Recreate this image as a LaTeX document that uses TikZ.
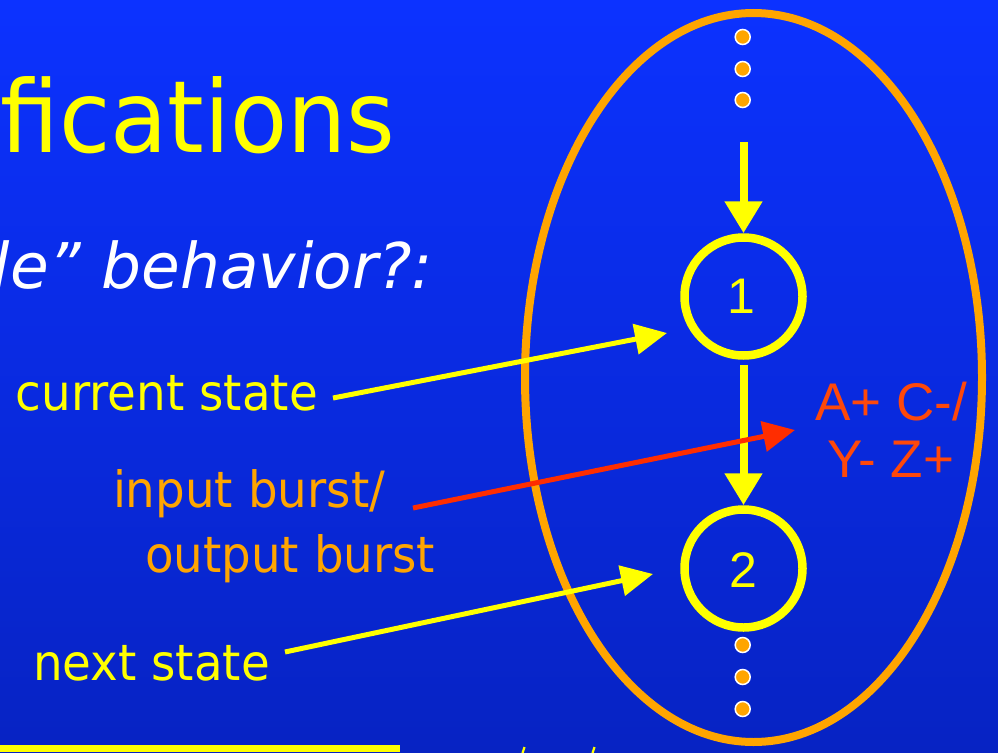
\documentclass[tikz,border=0pt]{standalone}
\usepackage{fontspec}
\usetikzlibrary{arrows.meta}
\newfontfamily\tah[FakeStretch=0.935]{DejaVu Sans}
\newfontfamily\verdi{DejaVu Sans}
\newfontfamily\ari{Liberation Sans}
\definecolor{bgtop}{RGB}{12,50,255}
\definecolor{bgbot}{RGB}{7,35,195}
\definecolor{ylw}{RGB}{255,255,0}
\definecolor{org}{RGB}{255,165,0}
\definecolor{redarr}{RGB}{255,45,0}
\definecolor{redtxt}{RGB}{255,72,10}
\tikzset{
  lbl/.style={inner sep=0pt, outer sep=0pt, anchor=base west, font=\tah\fontsize{50}{60}\selectfont},
  statecirc/.style={circle, draw=ylw, line width=8.5pt, minimum size=118pt, inner sep=0pt,
     font=\ari\fontsize{50}{60}\selectfont, text=ylw},
  dotnode/.style={circle, fill=org, draw=white, line width=1.5pt, minimum size=15pt, inner sep=0pt},
  vtrans/.style={ylw, line width=8pt, -{Triangle[length=32pt,width=36pt]}},
  pointer/.style={line width=5pt, -{Triangle[length=32pt,width=30pt]}},
}
\begin{document}
\begin{tikzpicture}[x=1pt,y=-1pt]
\useasboundingbox (0,0) rectangle (998,752);
\shade[top color=bgtop, bottom color=bgbot] (0,0) rectangle (998,752);
\begin{scope}
\clip (0,0) rectangle (998,752);
% big ellipse
\draw[org, line width=8pt] (753.5,377.5) ellipse [x radius=228.5pt, y radius=364.5pt];
% title fragments
\node[inner sep=0pt, anchor=base west, text=ylw, font=\tah\fontsize{100}{110}\selectfont] (title) at (0,152) {fications};
\node[inner sep=0pt, anchor=base east, text=white, font=\verdi\itshape\fontsize{63}{70}\selectfont] (sub) at (433,288) {le” behavior?:};
% bottom fragments
\fill[ylw] (0,745) rectangle (400,752);
\draw[ylw, line width=2.2pt] (522.5,753) -- (524.5,747);
\draw[ylw, line width=2.2pt] (592.5,753) -- (594.5,747);
\end{scope}
% dots
\node[dotnode] (d1) at (742.7,37) {};
\node[dotnode] (d2) at (742.7,69) {};
\node[dotnode] (d3) at (742.7,100) {};
\node[dotnode] (d4) at (742.7,645) {};
\node[dotnode] (d5) at (742.7,677) {};
\node[dotnode] (d6) at (742.7,709) {};
% states
\node[statecirc] (s1) at (743.5,296.5) {};
\node[inner sep=0pt, anchor=base, text=ylw, font=\ari\fontsize{50}{60}\selectfont] (n1) at (741,313) {1};
\node[statecirc] (s2) at (743.5,568.5) {};
\node[inner sep=0pt, anchor=base, text=ylw, font=\ari\fontsize{50}{60}\selectfont] (n2) at (743.5,587) {2};
\coordinate (in1) at (743.5,142);
\draw[vtrans] (in1) -- (s1.north);
\draw[vtrans, shorten <=5pt] (s1.south) -- (s2.north);
% labels
\node[lbl, text=ylw] (cur) at (16,410) {current state};
\node[lbl, text=org] (ib) at (113,507) {input burst/};
\node[lbl, text=org] (ob) at (145,572) {output burst};
\node[lbl, text=ylw] (nxt) at (33,680) {next state};
\node[inner sep=0pt, anchor=base, text=redtxt, font=\ari\fontsize{53}{60}\selectfont] (tr1) at (891,420) {A+ C-/};
\node[inner sep=0pt, anchor=base, text=redtxt, font=\ari\fontsize{53}{60}\selectfont] (tr2) at (891,477) {Y- Z+};
% pointers
\coordinate (curA) at (333,398);
\coordinate (curB) at (667,333);
\coordinate (ibA) at (413,508);
\coordinate (ibB) at (795,430);
\coordinate (nxA) at (285,652);
\coordinate (nxB) at (653,574);
\draw[pointer, ylw] (curA) -- (curB);
\draw[pointer, redarr] (ibA) -- (ibB);
\draw[pointer, ylw] (nxA) -- (nxB);
\end{tikzpicture}
\end{document}
